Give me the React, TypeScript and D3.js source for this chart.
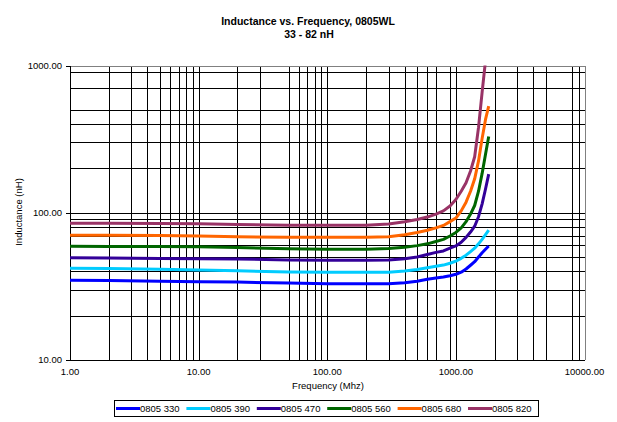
import React from "react";
import * as d3 from "d3";

const FREQ = [1, 2, 5, 10, 20, 50, 100, 200, 300, 400, 500, 600, 700, 800, 900, 1000, 1100, 1200, 1300, 1400, 1500, 1600, 1700, 1800];

const L330 = [34.8, 34.6, 34.2, 34.0, 33.8, 33.3, 33.0, 33.0, 33.0, 33.5, 34.3, 35.3, 36.0, 36.6, 37.3, 38.2, 39.5, 41.5, 44, 46.5, 50, 53.5, 56.5, 59.4];
const L390 = [42, 41.8, 41.3, 40.8, 40.4, 39.6, 39.4, 39.4, 39.5, 40.2, 41.2, 42.3, 43.3, 44.1, 45.4, 47, 49, 51.5, 54.5, 57.5, 61.5, 66, 71, 76.3];
const L470 = [49.5, 49.2, 48.9, 48.8, 48.6, 47.8, 47.5, 47.5, 47.8, 48.7, 50, 52, 53.8, 55, 57.5, 59.5, 63, 68, 74, 81, 94, 115, 145, 183];
const L560 = [59.2, 59.1, 59.0, 58.8, 58.0, 57.0, 56.6, 56.5, 57.2, 58.3, 59.8, 61.5, 63.8, 66, 69.5, 73.5, 79, 87, 98, 112, 140, 185, 250, 329];
const L680 = [70.3, 70.3, 70.1, 69.5, 68.8, 68.1, 68.1, 68.1, 68.6, 71, 73.5, 76, 79, 82, 87, 92, 103, 118, 140, 170, 225, 320, 430, 530];
const L820 = [84.8, 84.8, 84.6, 84.2, 83.2, 82.3, 82.2, 82.2, 83.8, 87, 90, 93.5, 98, 103, 111, 123, 140, 160, 192, 240, 380, 660, 1080, 1700];

const SERIES_NAMES = ["0805 330", "0805 390", "0805 470", "0805 560", "0805 680", "0805 820"];
const SERIES_VALUES = [L330, L390, L470, L560, L680, L820];
const SERIES_COLORS = ["#0000FF", "#00CCFF", "#330099", "#006600", "#FF6600", "#993366"];

const X_TICKS = [1, 10, 100, 1000, 10000];
const Y_TICKS = [10, 100, 1000];
const X_GRID = [2, 3, 4, 5, 6, 7, 8, 9, 10, 20, 30, 50, 60, 70, 80, 90, 100, 200, 300, 400, 500, 600, 700, 900, 1000, 2000, 3000, 4000, 5000, 8000, 9000];
const Y_GRID = [20, 30, 40, 50, 60, 70, 80, 90, 100, 200, 300, 400, 500, 700, 900];

const TITLE1 = "Inductance vs. Frequency, 0805WL";
const TITLE2 = "33 - 82 nH";
const X_TITLE = "Frequency (Mhz)";
const Y_TITLE = "Inductance (nH)";

const FONT = "'Liberation Sans', Arial, sans-serif";

export default function App() {
  const W = 617, H = 422;
  const left = 70, right = 584.5, top = 65.5, bottom = 360;
  const x = d3.scaleLog().domain([1, 10000]).range([left, right]);
  const y = d3.scaleLog().domain([10, 1000]).range([bottom, top]);
  const fmt = d3.format(".2f");
  const px = (v: number) => Math.round(v) + 0.5;

  const line = d3.line<[number, number]>().x(d => x(d[0])).y(d => y(d[1]));

  const legX0 = 114, legY0 = 400, legW = 424, legH = 16;
  const itemW = 70.4;

  return (
    <svg width={W} height={H} style={{ position: "absolute", left: 0, top: 0, background: "#fff" }} fontFamily={FONT}>
      <defs>
        <clipPath id="plotClip">
          <rect x={left} y={top} width={right - left} height={bottom - top} />
        </clipPath>
      </defs>
      <rect x={0} y={0} width={W} height={H} fill="#fff" />
      <text x={308} y={24.5} textAnchor="middle" fontWeight="bold" fontSize={10.5}>{TITLE1}</text>
      <text x={309} y={37.5} textAnchor="middle" fontWeight="bold" fontSize={10.5}>{TITLE2}</text>

      <g shapeRendering="crispEdges">
        {X_GRID.map((v, i) => (
          <line key={"xg" + i} x1={px(x(v))} x2={px(x(v))} y1={top} y2={bottom} stroke="#000" strokeWidth={1} />
        ))}
        {Y_GRID.map((v, i) => (
          <line key={"yg" + i} x1={left} x2={right} y1={px(y(v))} y2={px(y(v))} stroke="#000" strokeWidth={1} />
        ))}
        <line x1={left} x2={px(right)} y1={px(top)} y2={px(top)} stroke="#808080" />
        <line x1={px(right)} x2={px(right)} y1={top} y2={bottom} stroke="#808080" />
        <line x1={px(left)} x2={px(left)} y1={top} y2={bottom} stroke="#000" />
        <line x1={left} x2={right} y1={px(bottom)} y2={px(bottom)} stroke="#000" />
        {Y_TICKS.map((v, i) => (
          <line key={"yt" + i} x1={left - 4} x2={left} y1={px(y(v))} y2={px(y(v))} stroke="#000" />
        ))}
      </g>

      <g clipPath="url(#plotClip)">
        {SERIES_VALUES.map((vals, i) => (
          <path key={"s" + i} d={line(FREQ.map((f, j) => [f, vals[j]] as [number, number])) || ""} fill="none" stroke={SERIES_COLORS[i]} strokeWidth={3} strokeLinejoin="round" />
        ))}
      </g>

      {Y_TICKS.map((v, i) => (
        <text key={"yl" + i} x={62} y={y(v) + 3} textAnchor="end" fontSize={9.5}>{fmt(v)}</text>
      ))}
      {X_TICKS.map((v, i) => (
        <text key={"xl" + i} x={x(v)} y={374.5} textAnchor="middle" fontSize={9.5}>{fmt(v)}</text>
      ))}
      <text x={328} y={389} textAnchor="middle" fontSize={9.5}>{X_TITLE}</text>
      <text transform={`translate(22,212) rotate(-90)`} textAnchor="middle" fontSize={9.5}>{Y_TITLE}</text>

      <rect x={legX0 + 0.5} y={legY0 + 0.5} width={legW} height={legH} fill="#fff" stroke="#000" strokeWidth={1} shapeRendering="crispEdges" />
      {SERIES_NAMES.map((name, i) => {
        const lx = legX0 + 2 + i * itemW;
        return (
          <g key={"lg" + i}>
            <line x1={lx} x2={lx + 24} y1={408.5} y2={408.5} stroke={SERIES_COLORS[i]} strokeWidth={3} />
            <text x={lx + 24} y={412} fontSize={9.5}>{name}</text>
          </g>
        );
      })}
    </svg>
  );
}
